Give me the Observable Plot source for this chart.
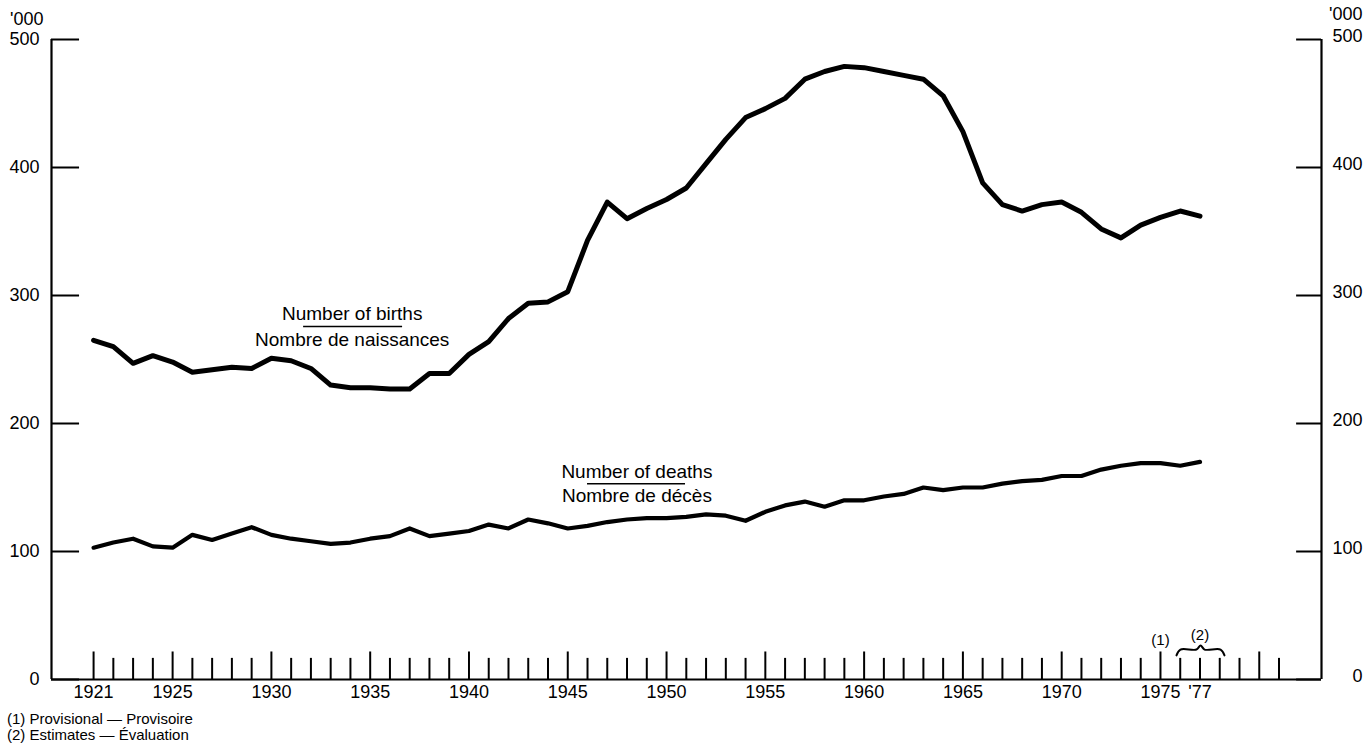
<!DOCTYPE html>
<html><head><meta charset="utf-8">
<script src="https://cdn.jsdelivr.net/npm/d3@7"></script>
<script src="https://cdn.jsdelivr.net/npm/@observablehq/plot@0.6"></script>
<style>
body{margin:0;background:#fff;font-family:"Liberation Sans",Arial,sans-serif;color:#000}
#notes{font-size:15px;line-height:16px;padding:6px 0 0 7px}
</style></head><body>
<div id="chart"></div>
<div id="notes"><div>(1) Provisional — Provisoire</div><div>(2) Estimates — Évaluation</div></div>
<script>
const years = [1921,1922,1923,1924,1925,1926,1927,1928,1929,1930,1931,1932,1933,1934,1935,1936,1937,1938,1939,1940,
  1941,1942,1943,1944,1945,1946,1947,1948,1949,1950,1951,1952,1953,1954,1955,1956,1957,1958,1959,1960,
  1961,1962,1963,1964,1965,1966,1967,1968,1969,1970,1971,1972,1973,1974,1975,1976,1977];
const births = [265,260,247,253,248,240,242,244,243,251,249,243,230,228,228,227,227,239,239,254,
  264,282,294,295,303,343,373,360,368,375,384,403,422,439,446,454,469,475,479,478,
  475,472,469,456,428,388,371,366,371,373,365,352,345,355,361,366,362];
const deaths = [103,107,110,104,103,113,109,114,119,113,110,108,106,107,110,112,118,112,114,116,
  121,118,125,122,118,120,123,125,126,126,127,129,128,124,131,136,139,135,140,140,
  143,145,150,148,150,150,153,155,156,159,159,164,167,169,169,167,170];
const tickYears = [1921,1922,1923,1924,1925,1926,1927,1928,1929,1930,1931,1932,1933,1934,1935,1936,1937,1938,1939,1940,
  1941,1942,1943,1944,1945,1946,1947,1948,1949,1950,1951,1952,1953,1954,1955,1956,1957,1958,1959,1960,
  1961,1962,1963,1964,1965,1966,1967,1968,1969,1970,1971,1972,1973,1974,1975,1976,1977,1978,1979,1980,1981];
const tallTickYears = [1921,1925,1930,1935,1940,1945,1950,1955,1960,1965,1970,1975,1980];
const labelYears = [1921,1925,1930,1935,1940,1945,1950,1955,1960,1965,1970,1975,1977];
const yTicks = [0,100,200,300,400,500];
const unitLabel = "'000";
const birthsLabel = ["Number of births", "Nombre de naissances"];
const deathsLabel = ["Number of deaths", "Nombre de décès"];
const footMarks = ["(1)", "(2)"];
// brace over the estimate years (year, value)
const braceX = [1975.81, 1976.01, 1976.82, 1977.03, 1977.23, 1978.04, 1978.24];
const braceY = [18.8, 23.4, 23.4, 26.6, 23.4, 23.4, 18.8];

const xMin = 1918.87, xMax = 1983.15;
const birthsData = years.map((y, i) => ({year: y, v: births[i]}));
const deathsData = years.map((y, i) => ({year: y, v: deaths[i]}));
const braceData = braceX.map((x, i) => ({x, y: braceY[i]}));

const chart = Plot.plot({
  width: 1364, height: 705,
  marginLeft: 51, marginRight: 43, marginTop: 39, marginBottom: 26,
  style: {fontSize: "18px", fontFamily: "'Liberation Sans', Arial, sans-serif", color: "#000", background: "#fff"},
  x: {domain: [xMin, xMax], label: null},
  y: {domain: [0, 500], label: null},
  marks: [
    Plot.ruleY([0], {x1: xMin, x2: xMax, strokeWidth: 2.2}),
    Plot.ruleX([xMin, xMax], {y1: 0, y2: 500, strokeWidth: 2.2}),
    Plot.ruleY(yTicks, {x1: xMin, x2: xMin + 1.42, strokeWidth: 2}),
    Plot.ruleY(yTicks, {x1: xMax - 1.26, x2: xMax, strokeWidth: 2}),
    Plot.ruleX(tickYears, {y1: 0, y2: d => tallTickYears.includes(d) ? 21.5 : 16.5, strokeWidth: 2}),
    Plot.line(deathsData, {x: "year", y: "v", strokeWidth: 4.2, strokeLinejoin: "round", strokeLinecap: "round"}),
    Plot.line(birthsData, {x: "year", y: "v", strokeWidth: 5, strokeLinejoin: "round", strokeLinecap: "round"}),
    Plot.axisY({anchor: "left", ticks: yTicks, tickSize: 0, tickPadding: 12, label: null}),
    Plot.axisY({anchor: "right", ticks: yTicks, tickSize: 0, tickPadding: 41, textAnchor: "end", dy: -3, label: null}),
    Plot.axisX({ticks: labelYears, tickSize: 0, tickPadding: 6, label: null,
      tickFormat: d => d === 1977 ? "'77" : String(d)}),
    Plot.text([unitLabel], {x: xMin, y: 500, dx: -8, dy: -20, textAnchor: "end"}),
    Plot.text([unitLabel], {x: xMax, y: 500, dx: 41, dy: -25, textAnchor: "end"}),
    Plot.text([birthsLabel[0]], {x: 1934.09, y: 280.5, fontSize: 19, lineAnchor: "bottom"}),
    Plot.text([birthsLabel[1]], {x: 1934.09, y: 260.9, fontSize: 19, lineAnchor: "bottom"}),
    Plot.ruleY([275.8], {x1: 1931.63, x2: 1936.64, strokeWidth: 1.5}),
    Plot.text([deathsLabel[0]], {x: 1948.5, y: 157.6, fontSize: 19, lineAnchor: "bottom"}),
    Plot.text([deathsLabel[1]], {x: 1948.5, y: 138.5, fontSize: 19, lineAnchor: "bottom"}),
    Plot.ruleY([152.9], {x1: 1946.0, x2: 1950.96, strokeWidth: 1.5}),
    Plot.text([footMarks[0]], {x: 1975, y: 31, fontSize: 15}),
    Plot.text([footMarks[1]], {x: 1977, y: 35, fontSize: 15}),
    Plot.line(braceData, {x: "x", y: "y", strokeWidth: 2, curve: "catmull-rom"})
  ]
});
document.getElementById("chart").appendChild(chart);
</script>
</body></html>
